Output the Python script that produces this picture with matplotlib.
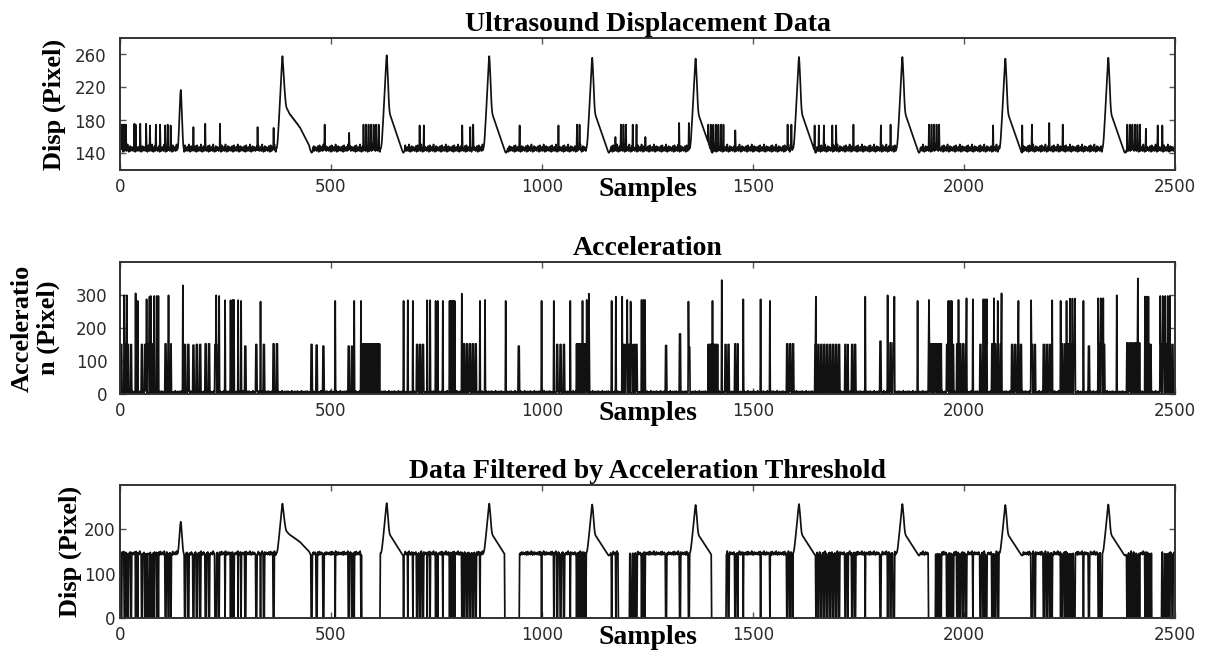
import numpy as np
import matplotlib
matplotlib.use("Agg")
import matplotlib.pyplot as plt

plt.rcParams["font.family"] = "DejaVu Sans"

# ---------------------------------------------------------------- data
n_samples = 2500
x_ticks = [0, 500, 1000, 1500, 2000, 2500]

titles = ["Ultrasound Displacement Data", "Acceleration",
          "Data Filtered by Acceleration Threshold"]
y_labels = ["Disp (Pixel)", "Acceleratio\nn (Pixel)", "Disp (Pixel)"]
x_label = "Samples"

disp_ylim = (120, 280)
disp_yticks = [140, 180, 220, 260]
acc_ylim = (0, 400)
acc_yticks = [0, 100, 200, 300]
filt_ylim = (0, 300)
filt_yticks = [0, 100, 200]

# resting displacement texture (pixels)
baseline_ripple = [144, 146, 143, 147, 145, 149, 144, 142, 146, 150, 145, 143,
                   147, 144, 148, 146, 143, 145, 151, 144, 146, 142, 147, 145,
                   149, 143, 146, 144, 148]

# heart beats: sample index of each peak and its height
beat_pos = [385, 632, 875, 1119, 1364, 1609, 1854, 2098, 2342]
beat_height = [258, 259, 258, 256, 255, 257, 257, 255, 256]
beat_onset = 14  # samples between rise start and peak

# beat waveform, sample by sample, from rise start (offset -14)
beat_shape = [146, 148, 152, 158, 166, 175, 184, 193, 203, 213, 223, 233, 243,
              252, 258,
              251, 241, 229, 216, 204, 195, 190, 187, 185, 184, 182, 181, 179,
              178, 176, 175, 173, 172, 170, 169, 167, 166, 164, 163, 161, 160,
              158, 157, 155, 154, 152, 151, 149, 148, 146, 145, 143, 142, 141,
              141, 142, 143]
first_beat_shape = [146, 148, 152, 158, 166, 175, 184, 193, 203, 213, 223, 233,
                    243, 252, 258,
                    251, 243, 234, 226, 218, 211, 205, 200, 197, 195, 194, 193,
                    192, 191, 190, 189,
                    188, 187, 187, 186, 185, 185, 184, 183, 183, 182, 181, 181,
                    180, 179, 179, 178, 177, 177, 176, 175, 175, 174, 173, 172,
                    172, 171, 170,
                    169, 168, 167, 166, 165, 164, 163, 162, 161, 160, 159, 158,
                    157, 156, 155, 154, 153, 152, 151, 150,
                    148, 146, 144, 143, 142, 141, 142]

# small early bump
small_beat_pos = 144
small_beat_shape = [146, 152, 162, 175, 189, 202, 212, 217, 210, 198, 184, 170,
                    158, 150, 146]

# tracking outliers visible in the raw displacement
outlier_pos = [6, 10, 34, 37, 48, 62, 71, 85, 95, 107, 113, 120, 174, 202, 237,
               326, 364, 485, 543, 710, 720, 811, 830, 837, 947, 1039, 1174,
               1215, 1224, 1245, 1325, 1348, 1458, 1582, 1591, 1646, 1656, 1668,
               1688, 1697, 1738, 1803, 1826, 2069, 2138, 2161, 2202, 2234, 2431,
               2459, 2470]
outlier_val = [175, 175, 176, 175, 176, 176, 174, 175, 175, 174, 175, 174, 172,
               176, 176, 172, 171, 175, 165, 174, 174, 174, 172, 175, 174, 174,
               160, 175, 175, 160, 177, 177, 168, 175, 175, 174, 174, 174, 174,
               174, 175, 174, 175, 174, 174, 175, 177, 175, 170, 174, 174]
# bursts of outliers (start, stop)
outlier_bursts = [(2, 16), (577, 619), (1083, 1094), (1187, 1202),
                  (1394, 1436), (1917, 1946), (2387, 2419)]
burst_level = 175

# acceleration: resting texture, isolated spikes and bursts
accel_floor = [3, 6, 2, 8, 4, 1, 5, 9, 3, 2, 6, 4, 7, 2, 5, 3, 10, 4, 2, 6, 3,
               5, 8]
accel_spike_pos = [10, 16, 37, 42, 63, 70, 73, 81, 87, 91, 115, 149, 228, 235,
                   249, 262, 267, 270, 280, 287, 333, 510, 555, 571, 672, 682,
                   694, 728, 735, 748, 753, 765, 781, 784, 787, 790, 793, 810,
                   853, 865, 914, 999, 1028, 1067, 1096, 1106, 1111, 1165, 1175,
                   1190, 1202, 1210, 1236, 1240, 1244, 1347, 1404, 1426, 1477,
                   1518, 1540, 1649, 1766, 1819, 1835, 1890, 1917, 1963, 1967,
                   1971, 1987, 2006, 2021, 2046, 2050, 2054, 2071, 2080, 2089,
                   2129, 2159, 2209, 2229, 2243, 2251, 2257, 2263, 2283, 2318,
                   2324, 2330, 2362, 2412, 2429, 2433, 2437, 2465, 2471, 2477,
                   2483, 2488]
accel_spike_val = [299, 299, 305, 282, 287, 295, 297, 297, 297, 297, 299, 329,
                   299, 297, 284, 284, 285, 285, 284, 282, 280, 282, 282, 282,
                   282, 284, 282, 284, 284, 282, 282, 282, 282, 282, 282, 282,
                   282, 304, 282, 285, 282, 282, 282, 282, 282, 285, 304, 282,
                   295, 295, 285, 280, 285, 285, 285, 280, 282, 345, 287, 287,
                   282, 295, 295, 299, 295, 282, 285, 282, 282, 282, 285, 290,
                   287, 287, 287, 287, 290, 282, 305, 282, 284, 284, 282, 282,
                   289, 289, 289, 282, 290, 290, 290, 299, 350, 295, 295, 295,
                   297, 297, 297, 297, 297]
# bursts of mid-level acceleration (start, stop, level, spacing, width)
accel_bursts = [(2, 28, 150, 8, 3), (51, 63, 150, 8, 3), (67, 79, 152, 8, 3),
                (107, 122, 152, 7, 3), (153, 156, 150, 8, 3),
                (161, 164, 150, 8, 3), (173, 176, 148, 8, 3),
                (181, 192, 150, 8, 3), (202, 213, 152, 8, 3),
                (225, 241, 150, 8, 3), (296, 300, 145, 8, 3),
                (322, 330, 150, 8, 3), (340, 348, 150, 8, 3),
                (363, 375, 152, 8, 3), (453, 456, 150, 8, 3),
                (465, 468, 148, 8, 3), (481, 484, 145, 8, 3),
                (541, 551, 145, 8, 3), (573, 616, 152, 2, 1),
                (703, 723, 150, 7, 3), (814, 849, 152, 7, 3),
                (944, 950, 145, 7, 3), (1035, 1055, 150, 8, 3),
                (1082, 1114, 152, 2, 1), (1193, 1228, 150, 6, 3),
                (1293, 1296, 147, 8, 3), (1326, 1329, 182, 8, 3),
                (1348, 1351, 142, 8, 3), (1394, 1418, 150, 2, 1),
                (1434, 1446, 150, 7, 3), (1457, 1465, 152, 7, 3),
                (1580, 1600, 152, 7, 3), (1647, 1706, 150, 7, 3),
                (1718, 1726, 150, 7, 3), (1734, 1746, 150, 7, 3),
                (1801, 1805, 160, 8, 3), (1825, 1837, 155, 7, 3),
                (1916, 1947, 152, 2, 1), (1959, 1979, 150, 7, 3),
                (1983, 2010, 152, 7, 3), (2038, 2058, 150, 7, 3),
                (2066, 2089, 152, 7, 3), (2113, 2141, 150, 7, 3),
                (2160, 2172, 150, 7, 3), (2188, 2208, 150, 7, 3),
                (2232, 2263, 152, 7, 3), (2295, 2303, 145, 8, 3),
                (2318, 2334, 150, 7, 3), (2386, 2417, 155, 6, 3),
                (2437, 2445, 150, 2, 1), (2465, 2500, 150, 7, 3)]
accel_threshold = 100

# stretches discarded as a whole by the filter (start, stop)
discarded_spans = [(573, 617), (912, 944), (1181, 1206), (1402, 1434),
                   (1916, 1932), (2445, 2469)]


# ------------------------------------------------------- build series
def place(series, start, values):
    values = np.asarray(values, dtype=float)
    lo, hi = max(start, 0), min(start + len(values), len(series))
    series[lo:hi] = values[lo - start:hi - start]


samples = np.arange(n_samples)

clean = np.resize(np.asarray(baseline_ripple, dtype=float), n_samples)
in_beat = np.zeros(n_samples, dtype=bool)
for i, (p, h) in enumerate(zip(beat_pos, beat_height)):
    shape = np.asarray(first_beat_shape if i == 0 else beat_shape, dtype=float)
    shape = shape + (h - 258) * np.clip(shape - 145, 0, None) / 113.0
    place(clean, p - beat_onset, shape)
    in_beat[p - beat_onset:p - beat_onset + len(shape) - 3] = True
sb_start = small_beat_pos - len(small_beat_shape) // 2
place(clean, sb_start, small_beat_shape)
in_beat[sb_start:sb_start + len(small_beat_shape)] = True

raw = clean.copy()
raw[outlier_pos] = outlier_val
for a, b in outlier_bursts:
    raw[a:b:6] = burst_level

accel = np.resize(np.asarray(accel_floor, dtype=float), n_samples)
for a, b, lvl, step, w in accel_bursts:
    for j in range(w):
        accel[a + j:min(b, n_samples):step] = lvl
accel[accel_spike_pos] = accel_spike_val

rejected = (accel > accel_threshold) & ~in_beat
for a, b in discarded_spans:
    rejected[a:b] = True
filtered = np.where(rejected, 0.0, clean)

# --------------------------------------------------------------- plot
fig = plt.figure(figsize=(12.08, 6.59), dpi=100)
fig.patch.set_facecolor("white")

left, width = 120 / 1208, 1055 / 1208
boxes = [(1 - 170 / 659, 132 / 659), (1 - 394 / 659, 132 / 659),
         (1 - 618 / 659, 133 / 659)]
series = [raw, accel, filtered]
ylims = [disp_ylim, acc_ylim, filt_ylim]
yticks = [disp_yticks, acc_yticks, filt_yticks]
ylabel_x = [-0.062, -0.080, -0.047]
ytick_pad = [10, 9, 3]

serif = "Liberation Serif"
for k in range(3):
    ax = fig.add_axes([left, boxes[k][0], width, boxes[k][1]])
    ax.plot(samples, series[k], color="#111111", lw=1.25)
    ax.set_xlim(0, 2500)
    ax.set_ylim(*ylims[k])
    ax.set_xticks(x_ticks)
    ax.set_yticks(yticks[k])
    ax.tick_params(direction="in", length=4, width=1, color="#555555",
                   top=True, right=True, labelsize=12, labelcolor="#2a2a2a")
    ax.tick_params(axis="x", pad=6)
    ax.tick_params(axis="y", pad=ytick_pad[k])
    for s in ax.spines.values():
        s.set_linewidth(1.4)
        s.set_color("#333333")
    ax.set_title(titles[k], fontsize=20, fontweight="bold", family=serif,
                 pad=5)
    ax.text(0.5, -0.15, x_label, transform=ax.transAxes, ha="center",
            va="center", fontsize=20, fontweight="bold", family=serif)
    ax.text(ylabel_x[k], 0.5, y_labels[k], transform=ax.transAxes,
            rotation=90, ha="center", va="center", fontsize=19,
            fontweight="bold", family=serif, linespacing=1.15)

fig.savefig("out.png", dpi=100)
